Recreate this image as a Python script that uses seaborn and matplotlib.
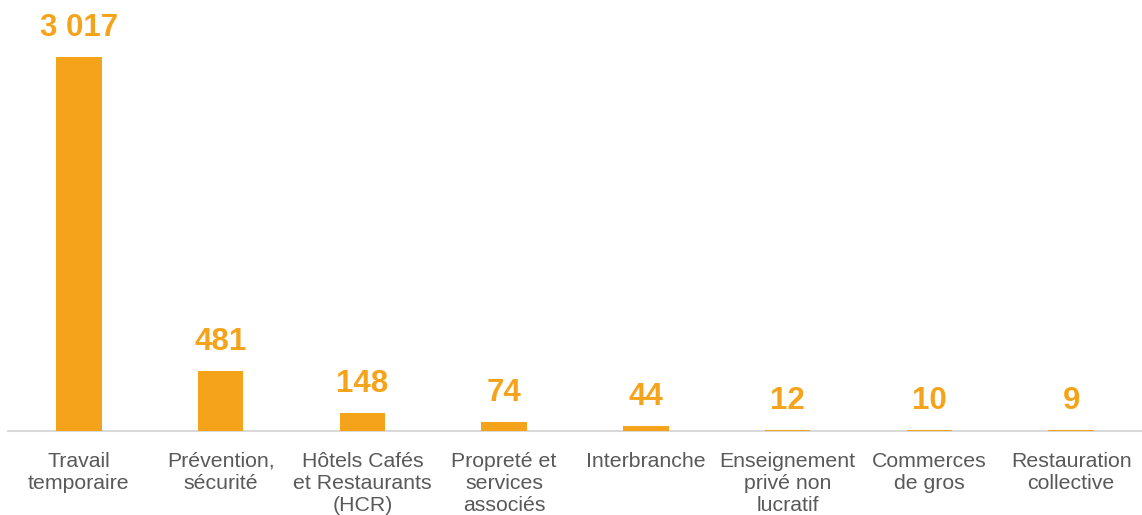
import numpy as np
import pandas as pd
import matplotlib
matplotlib.use('Agg')
import matplotlib.pyplot as plt
import seaborn as sns

# Données
categories = ['Travail\ntemporaire', 'Prévention,\nsécurité', 'Hôtels Cafés\net Restaurants\n(HCR)',
              'Propreté et\nservices\nassociés', 'Interbranche', 'Enseignement\nprivé non\nlucratif',
              'Commerces\nde gros', 'Restauration\ncollective']
valeurs = [3017, 481, 148, 74, 44, 12, 10, 9]
etiquettes = ['3 017', '481', '148', '74', '44', '12', '10', '9']

df = pd.DataFrame({'branche': categories, 'nb': valeurs})

sns.set_style('white')
plt.rcParams['font.family'] = ['Liberation Sans', 'DejaVu Sans']

orange = '#F5A31A'
fig = plt.figure(figsize=(11.42, 5.15), dpi=100)
ax = fig.add_axes([8 / 1142, 1 - 431 / 515, 1 - 8 / 1142, 431 / 515])

sns.barplot(data=df, x='branche', y='nb', color=orange, width=0.32, saturation=1,
            linewidth=0, edgecolor=orange, ax=ax)

for p, lab in zip(ax.patches, etiquettes):
    p.set_zorder(3)
    p.set_clip_on(False)
    ax.annotate(lab, (p.get_x() + p.get_width() / 2, p.get_height()),
                xytext=(0, 10), textcoords='offset points', ha='center', va='bottom',
                fontsize=22.5, fontweight='bold', color=orange)

ax.set_ylim(0, 3477)
ax.set_xlim(-0.5, len(categories) - 0.5)
ax.set_xlabel('')
ax.set_ylabel('')
ax.set_yticks([])
ax.tick_params(axis='x', length=0, pad=15, labelsize=15.3, labelcolor='#595959')
for s in ['top', 'right', 'left']:
    ax.spines[s].set_visible(False)
ax.spines['bottom'].set_color('#D9D9D9')
ax.spines['bottom'].set_linewidth(1.5)
ax.spines['bottom'].set_zorder(2)

fig.savefig('out.png', dpi=100)
